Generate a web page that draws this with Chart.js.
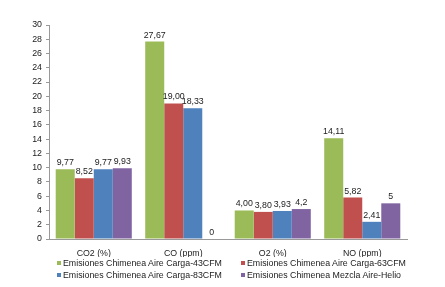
<!DOCTYPE html>
<html>
<head>
<meta charset="utf-8">
<script src="https://cdn.jsdelivr.net/npm/chart.js@4"></script>
<style>
  html, body { margin: 0; padding: 0; background: #fff; }
  #wrap { position: relative; width: 445px; height: 287px; }
  canvas { display: block; }
  #legend { position: absolute; left: 57px; top: 258px; font: 8.8px "Liberation Sans", Arial, sans-serif; color: #222; line-height: 10px; }
  #legend div { position: absolute; white-space: nowrap; }
  #legend span { display: inline-block; width: 4px; height: 4px; margin-right: 2px; vertical-align: 1px; }
</style>
</head>
<body>
<div id="wrap">
  <canvas id="c" width="445" height="287"></canvas>
  <div id="legend"></div>
</div>
<script>
'use strict';

const categories = ['CO2 (%)', 'CO (ppm)', 'O2 (%)', 'NO (ppm)'];
const seriesNames = [
  'Emisiones Chimenea Aire Carga-43CFM',
  'Emisiones Chimenea Aire Carga-63CFM',
  'Emisiones Chimenea Aire Carga-83CFM',
  'Emisiones Chimenea Mezcla Aire-Helio',
];
const s43 = [9.77, 27.67, 4.00, 14.11];
const s63 = [8.52, 19.00, 3.80, 5.82];
const s83 = [9.77, 18.33, 3.93, 2.41];
const sHelio = [9.93, 0, 4.2, 5];
const labels43 = ['9,77', '27,67', '4,00', '14,11'];
const labels63 = ['8,52', '19,00', '3,80', '5,82'];
const labels83 = ['9,77', '18,33', '3,93', '2,41'];
const labelsHelio = ['9,93', '0', '4,2', '5'];
const yTicks = [0, 2, 4, 6, 8, 10, 12, 14, 16, 18, 20, 22, 24, 26, 28, 30];

const colors = ['#9bbb59', '#c0504d', '#4f81bd', '#8064a2'];
const allValues = [s43, s63, s83, sHelio];
const allLabels = [labels43, labels63, labels83, labelsHelio];

// value labels above bars
const valueLabels = {
  id: 'valueLabels',
  afterDatasetsDraw(chart) {
    const ctx = chart.ctx;
    ctx.save();
    ctx.font = '8.8px "Liberation Sans", Arial, sans-serif';
    ctx.fillStyle = '#222';
    ctx.textAlign = 'center';
    ctx.textBaseline = 'bottom';
    chart.data.datasets.forEach((ds, i) => {
      chart.getDatasetMeta(i).data.forEach((bar, j) => {
        ctx.fillText(allLabels[i][j], bar.x, bar.y - 2);
      });
    });
    ctx.restore();
  },
};

new Chart(document.getElementById('c').getContext('2d'), {
  type: 'bar',
  data: {
    labels: categories,
    datasets: seriesNames.map((name, i) => ({
      label: name,
      data: allValues[i],
      backgroundColor: colors[i],
      borderWidth: 0,
      barPercentage: 1.0,
      categoryPercentage: 0.85,
    })),
  },
  options: {
    responsive: false,
    animation: false,
    layout: { padding: { left: 0, top: 25, right: 38, bottom: 30 } },
    plugins: { legend: { display: false }, tooltip: { enabled: false } },
    scales: {
      x: {
        grid: { display: false },
        border: { color: '#999', width: 1 },
        ticks: { color: '#222', font: { size: 8.8, family: '"Liberation Sans", Arial, sans-serif' }, padding: 1 },
        afterFit: s => { s.height = 18; },
      },
      y: {
        min: 0,
        max: 30,
        afterBuildTicks: s => { s.ticks = yTicks.map(v => ({ value: v })); },
        grid: { drawOnChartArea: false, drawTicks: true, tickLength: 3, color: '#999' },
        border: { color: '#999', width: 1 },
        ticks: { color: '#222', font: { size: 8.8, family: '"Liberation Sans", Arial, sans-serif' }, padding: 4 },
        afterFit: s => { s.width = 49; },
      },
    },
  },
  plugins: [valueLabels],
});

// two-column legend
const legend = document.getElementById('legend');
const pos = [[0, 0], [184, 0], [0, 12], [184, 12]];
seriesNames.forEach((name, i) => {
  const d = document.createElement('div');
  d.style.left = pos[i][0] + 'px';
  d.style.top = pos[i][1] + 'px';
  d.innerHTML = '<span style="background:' + colors[i] + '"></span>' + name;
  legend.appendChild(d);
});
</script>
</body>
</html>
